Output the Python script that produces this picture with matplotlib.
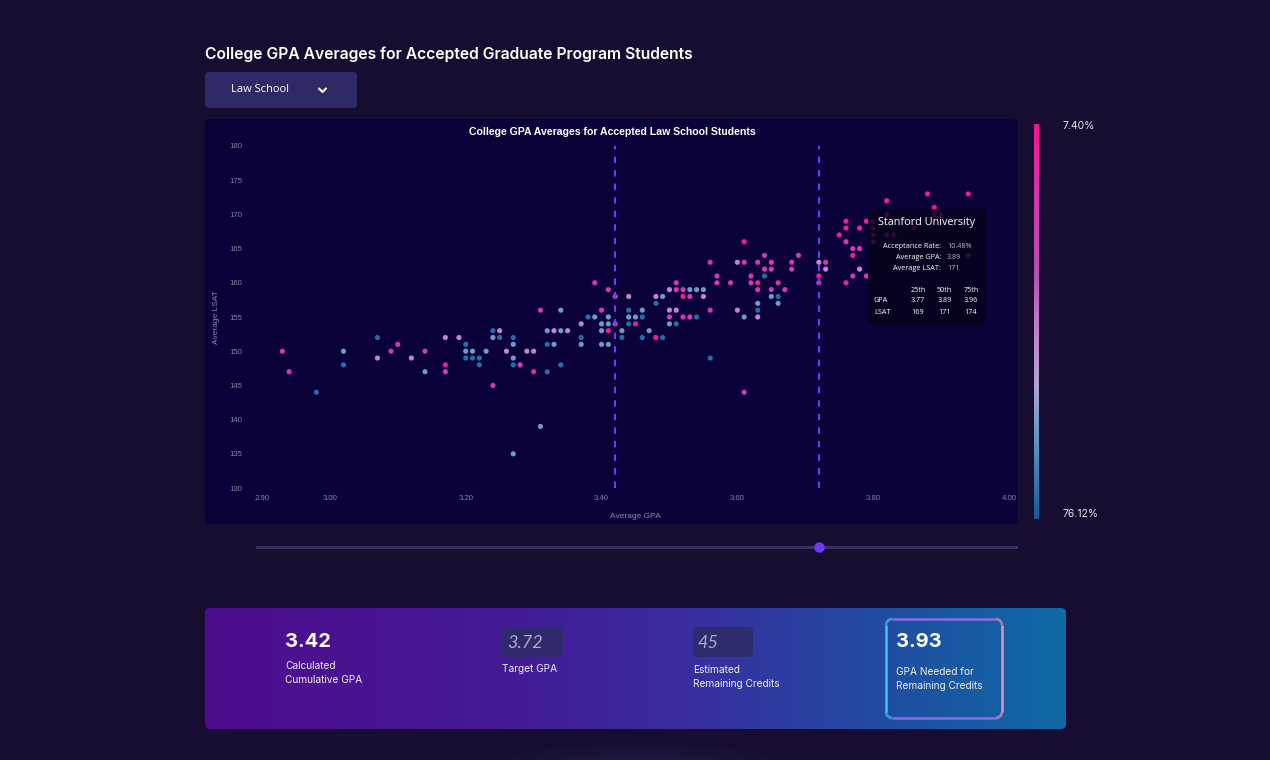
import numpy as np
import matplotlib.pyplot as plt
from matplotlib.colors import LinearSegmentedColormap
from matplotlib.patches import FancyBboxPatch, Ellipse
from matplotlib.collections import LineCollection

# law schools: average GPA, average LSAT and acceptance rate (%)
gpa = [2.93, 2.94, 2.98, 3.02, 3.02, 3.07, 3.07, 3.09, 3.10, 3.12,
       3.14, 3.14, 3.17, 3.17, 3.17, 3.19, 3.20, 3.20, 3.20, 3.21,
       3.21, 3.22, 3.22, 3.23, 3.24, 3.24, 3.25, 3.25, 3.24, 3.26,
       3.27, 3.27, 3.27, 3.27, 3.28, 3.27, 3.29, 3.30, 3.30, 3.31,
       3.32, 3.32, 3.32, 3.33, 3.33, 3.34, 3.34, 3.35, 3.37, 3.37,
       3.37, 3.40, 3.40, 3.40, 3.41, 3.41, 3.41, 3.42, 3.43, 3.43,
       3.31, 3.34, 3.38, 3.39, 3.39, 3.40, 3.41, 3.41, 3.42, 3.44,
       3.48, 3.49, 3.48, 3.50, 3.51, 3.51, 3.52, 3.53, 3.54, 3.55,
       3.52, 3.53, 3.55, 3.56, 3.57, 3.57, 3.59, 3.56, 3.60, 3.61,
       3.61, 3.62, 3.62, 3.63, 3.63, 3.63, 3.63, 3.63, 3.64, 3.64,
       3.64, 3.65, 3.65, 3.65, 3.65, 3.66, 3.66, 3.66, 3.67, 3.68,
       3.68, 3.69, 3.61, 3.63, 3.60, 3.51, 3.50, 3.50, 3.52, 3.53,
       3.54, 3.50, 3.51, 3.44, 3.44, 3.45, 3.46, 3.46, 3.44, 3.45,
       3.47, 3.46, 3.48, 3.49, 3.56, 3.61, 3.72, 3.73, 3.72, 3.73,
       3.72, 3.75, 3.76, 3.76, 3.76, 3.76, 3.77, 3.77, 3.78, 3.78,
       3.78, 3.77, 3.79, 3.79, 3.82, 3.88, 3.94, 3.89, 3.80, 3.82,
       3.89, 3.90, 3.80, 3.80, 3.82, 3.83, 3.80, 3.86, 3.94]
lsat = [150, 147, 144, 150, 148, 152, 149, 150, 151, 149,
        150, 147, 152, 148, 147, 152, 151, 150, 149, 150,
        149, 149, 148, 150, 153, 152, 153, 152, 145, 150,
        152, 151, 149, 148, 148, 135, 150, 150, 147, 139,
        153, 151, 147, 153, 151, 153, 148, 153, 154, 152,
        151, 154, 153, 151, 154, 153, 151, 154, 153, 152,
        156, 156, 155, 155, 160, 156, 159, 155, 158, 158,
        158, 158, 157, 159, 160, 159, 159, 159, 159, 159,
        158, 158, 158, 163, 161, 160, 160, 156, 163, 166,
        163, 161, 160, 163, 160, 159, 157, 156, 164, 162,
        161, 163, 162, 159, 158, 160, 158, 157, 159, 163,
        162, 164, 155, 155, 156, 156, 156, 155, 155, 155,
        155, 154, 154, 156, 155, 155, 156, 155, 154, 154,
        153, 152, 152, 152, 149, 144, 163, 163, 161, 162,
        160, 167, 169, 168, 166, 160, 165, 164, 168, 165,
        162, 161, 169, 161, 172, 173, 173, 171, 169, 170,
        170, 170, 168, 167, 167, 167, 166, 168, 164]
accept = [22, 22, 72, 60, 72, 72, 45, 22, 22, 45,
          22, 60, 45, 12, 22, 45, 72, 60, 72, 60,
          72, 72, 72, 60, 72, 60, 45, 72, 22, 45,
          72, 60, 60, 72, 22, 60, 45, 45, 16, 60,
          60, 72, 72, 45, 60, 60, 72, 45, 45, 72,
          60, 60, 60, 60, 60, 12, 60, 30, 60, 72,
          22, 60, 72, 60, 22, 22, 22, 60, 30, 45,
          45, 60, 72, 45, 22, 22, 22, 60, 60, 60,
          12, 22, 45, 20, 22, 22, 22, 22, 45, 12,
          22, 22, 22, 22, 12, 22, 60, 72, 22, 22,
          72, 22, 22, 22, 60, 22, 72, 60, 22, 22,
          22, 22, 60, 45, 45, 45, 45, 22, 22, 22,
          72, 60, 72, 72, 60, 60, 60, 72, 72, 12,
          60, 72, 12, 72, 72, 22, 45, 22, 12, 45,
          30, 12, 12, 12, 22, 12, 22, 12, 12, 22,
          45, 22, 12, 22, 12, 12, 12, 10.48, 12, 12,
          12, 12, 12, 12, 12, 12, 22, 12, 22]

rate_min, rate_max = 7.40, 76.12

# hovered school
hover_name = 'Stanford University'
hover_rate = 10.48
hover_gpa = 3.89
hover_lsat = 171
pct_names = ['25th', '50th', '75th']
hover_gpa_pct = [3.77, 3.89, 3.96]
hover_lsat_pct = [169, 171, 174]

# calculator values
current_gpa = 3.42
target_gpa = 3.72
remaining_credits = 45
needed_gpa = 3.93
program = 'Law School'

W, H = 1270, 760
PAGE = '#160d31'
PANEL = '#0a0239'

cmap = LinearSegmentedColormap.from_list('accept', [
    (0.0, '#ff0f8e'), (0.2, '#d535b4'), (0.38, '#b84cb4'),
    (0.52, '#c57ccd'), (0.66, '#b3a2d6'), (0.8, '#5a96c6'), (1.0, '#0f5c9c')])
panel_cmap = LinearSegmentedColormap.from_list('panel', [
    (0.0, '#4e0c8d'), (0.35, '#441a97'), (0.55, '#3a2ca0'),
    (0.8, '#1f4ea1'), (1.0, '#0f6aa5')])
border_cmap = LinearSegmentedColormap.from_list('border', ['#3cc8f2', '#8a6ae8', '#e890c4'])


def rbox(ax, x0, y0, x1, y1, r, **kw):
    p = FancyBboxPatch((x0, y0), x1 - x0, y1 - y0,
                       boxstyle='round,pad=0,rounding_size=%s' % r, **kw)
    ax.add_patch(p)
    return p


def rounded_outline(x0, y0, x1, y1, r, n=40):
    pts = []
    corners = [(x1 - r, y0 + r, -90, 0), (x1 - r, y1 - r, 0, 90),
               (x0 + r, y1 - r, 90, 180), (x0 + r, y0 + r, 180, 270)]
    for cx, cy, a0, a1 in corners:
        t = np.radians(np.linspace(a0, a1, n))
        pts.append(np.c_[cx + r * np.cos(t), cy + r * np.sin(t)])
    pts = np.vstack(pts + [pts[0][:1]])
    return pts


fig = plt.figure(figsize=(12.7, 7.6), dpi=100, facecolor=PAGE)

# background layer in pixel coordinates
bg = fig.add_axes([0, 0, 1, 1], zorder=0)
bg.set_xlim(0, W)
bg.set_ylim(H, 0)
bg.axis('off')

# faint glow at the bottom
for i in range(6):
    bg.add_patch(Ellipse((640, 772), 300 - i * 40, 60 - i * 8, color='#6a5aa0',
                         alpha=0.035, lw=0))

bg.text(205, 54, 'College GPA Averages for Accepted Graduate Program Students',
        color='white', fontsize=11.3, fontweight='semibold', family='Inter', va='center')

rbox(bg, 205, 72, 357, 108, 4, fc='#2e2a66', ec='none')
bg.text(231, 90, program, color='white', fontsize=8, family='Open Sans', va='center')
bg.plot([319, 322.5, 326], [88.5, 92, 88.5], color='white', lw=1.5, solid_capstyle='round')

rbox(bg, 205, 119, 1018, 524, 4, fc=PANEL, ec='none')
bg.text(612, 132, 'College GPA Averages for Accepted Law School Students',
        color='white', fontsize=7.6, fontweight='bold', family='Liberation Sans',
        ha='center', va='center')
bg.text(635.5, 516, 'Average GPA', color='#8a88a8', fontsize=6,
        family='Liberation Sans', ha='center', va='center')
bg.text(216, 317, 'Average LSAT', color='#8a88a8', fontsize=6, rotation=90,
        family='Liberation Sans', ha='center', va='center')

# scatter
ax = fig.add_axes([262 / W, 1 - 488 / H, (1009 - 262) / W, (488 - 146) / H], zorder=1)
ax.set_facecolor('none')
for s in ax.spines.values():
    s.set_visible(False)
sc = ax.scatter(gpa, lsat, c=accept, cmap=cmap, vmin=rate_min, vmax=rate_max,
                s=14, linewidths=0, zorder=2)
ax.axvline(current_gpa, color='#6b3bff', lw=1.5, ls=(0, (3.1, 3.4)), zorder=3)
ax.axvline(target_gpa, color='#6b3bff', lw=1.5, ls=(0, (3.1, 3.4)), zorder=3)
ax.set_xlim(2.9, 4.0)
ax.set_ylim(130, 180)
ax.set_xticks([2.9, 3.0, 3.2, 3.4, 3.6, 3.8, 4.0])
ax.set_xticklabels(['%.2f' % v for v in [2.9, 3.0, 3.2, 3.4, 3.6, 3.8, 4.0]])
ax.set_yticks(np.arange(130, 181, 5))
ax.tick_params(length=0, labelsize=5.6, labelcolor='#85839e', pad=5)
ax.tick_params(axis='y', pad=14)
for lab in ax.get_xticklabels() + ax.get_yticklabels():
    lab.set_family('Liberation Sans')

# colorbar
cax = fig.add_axes([1034 / W, 1 - 519 / H, 5 / W, (519 - 124) / H], zorder=1)
cb = fig.colorbar(sc, cax=cax)
cb.outline.set_visible(False)
cb.set_ticks([])
cax.invert_yaxis()
bg.text(1063, 126, '%.2f%%' % rate_min, color='#e8e6f2', fontsize=7.5,
        family='Inter', va='center')
bg.text(1063, 514, '%.2f%%' % rate_max, color='#e8e6f2', fontsize=7.5,
        family='Inter', va='center')

# slider
sl = fig.add_axes([256 / W, 1 - 553 / H, 762 / W, 12 / H], zorder=1)
sl.axis('off')
sl.set_xlim(2.8912, 4.0132)
sl.set_ylim(-1, 1)
sl.plot(sl.get_xlim(), [0, 0], color='#363063', lw=2.2, solid_capstyle='round')
sl.plot([target_gpa], [0], 'o', color='#6a3cf6', ms=7.5, mew=0)

# tooltip overlay
ov = fig.add_axes([0, 0, 1, 1], zorder=3)
ov.set_xlim(0, W)
ov.set_ylim(H, 0)
ov.axis('off')
rbox(ov, 868, 209, 986, 325, 4, fc='#05021a', alpha=0.8, ec='none')
ov.text(927, 222, hover_name, color='white', fontsize=7.8, family='Open Sans',
        ha='center', va='center')
rows = [('Acceptance Rate:', '%.2f%%' % hover_rate),
        ('Average GPA:', '%.2f' % hover_gpa),
        ('Average LSAT:', '%d' % hover_lsat)]
for i, (k, v) in enumerate(rows):
    ov.text(941, 246 + i * 11.5, k, color='white', fontsize=5.2, family='Open Sans',
            ha='right', va='center')
    ov.text(947, 246 + i * 11.5, v, color='#b8b6c8', fontsize=5.2, family='Open Sans',
            va='center')
for j, name in enumerate(pct_names):
    xc = 918 + j * 26.5
    ov.text(xc, 290, name, color='white', fontsize=5.2, family='Open Sans',
            ha='center', va='center')
    ov.text(xc, 301, '%.2f' % hover_gpa_pct[j], color='white', fontsize=5.2,
            family='Open Sans', ha='center', va='center')
    ov.text(xc, 312, '%d' % hover_lsat_pct[j], color='white', fontsize=5.2,
            family='Open Sans', ha='center', va='center')
ov.text(874, 301, 'GPA', color='white', fontsize=5.2, family='Open Sans', va='center')
ov.text(874, 312, 'LSAT', color='white', fontsize=5.2, family='Open Sans', va='center')

# calculator panel
panel = rbox(bg, 205, 608, 1066, 729, 5, fc='none', ec='none')
im = bg.imshow(np.linspace(0, 1, 256)[None, :], cmap=panel_cmap, aspect='auto',
               extent=(205, 1066, 729, 608), zorder=1)
im.set_clip_path(panel)
bg.set_xlim(0, W)
bg.set_ylim(H, 0)

bg.text(285, 642, '%.2f' % current_gpa, color='white', fontsize=14.5,
        fontweight='bold', family='Inter', va='center', zorder=3)
bg.text(285, 673, 'Calculated\nCumulative GPA', color='#f0eef8', fontsize=7.3,
        family='Inter', va='center', linespacing=1.55, zorder=3)

rbox(bg, 502, 627, 563, 657, 4, fc='#2e2c68', alpha=0.9, ec='none', zorder=2)
bg.text(507, 643, '%.2f' % target_gpa, color='#aeacc8', fontsize=13,
        fontstyle='italic', family='Lato', va='center', zorder=3)
bg.text(502, 669, 'Target GPA', color='#f0eef8', fontsize=7.3, family='Inter',
        va='center', zorder=3)

rbox(bg, 693, 627, 753, 657, 4, fc='#2e2c68', alpha=0.9, ec='none', zorder=2)
bg.text(698, 643, '%d' % remaining_credits, color='#aeacc8', fontsize=13,
        fontstyle='italic', family='Lato', va='center', zorder=3)
bg.text(693, 677, 'Estimated\nRemaining Credits', color='#f0eef8', fontsize=7.3,
        family='Inter', va='center', linespacing=1.55, zorder=3)

pts = rounded_outline(886, 619, 1002, 718, 6)
segs = np.stack([pts[:-1], pts[1:]], axis=1)
lc = LineCollection(segs, cmap=border_cmap, linewidths=1.8, zorder=3)
lc.set_array((segs[:, :, 0].mean(axis=1) - 886) / (1002 - 886))
bg.add_collection(lc)
bg.text(896, 642, '%.2f' % needed_gpa, color='white', fontsize=14.5,
        fontweight='bold', family='Inter', va='center', zorder=3)
bg.text(896, 679, 'GPA Needed for\nRemaining Credits', color='#f0eef8', fontsize=7.3,
        family='Inter', va='center', linespacing=1.55, zorder=3)

fig.savefig('out.png', dpi=100, facecolor=PAGE)
